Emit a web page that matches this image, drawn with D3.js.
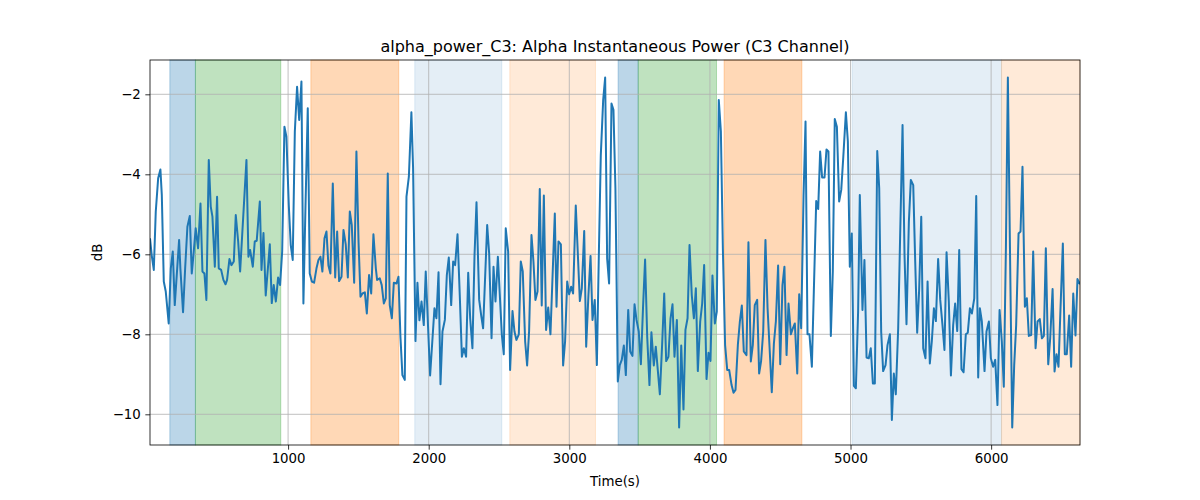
<!DOCTYPE html>
<html>
<head>
<meta charset="utf-8">
<script src="https://cdn.jsdelivr.net/npm/d3@7"></script>
<style>
  html, body { margin: 0; padding: 0; background: #fff; }
  svg { display: block; font-family: "DejaVu Sans", sans-serif; }
</style>
</head>
<body>
<svg id="chart" width="1200" height="500"></svg>
<script>
const chartTitle = "alpha_power_C3: Alpha Instantaneous Power (C3 Channel)";
const xLabel = "Time(s)";
const yLabel = "dB";
const xTicks = [1000, 2000, 3000, 4000, 5000, 6000];
const yTicks = [-2, -4, -6, -8, -10];

const times = [
  18, 30, 45, 59, 76, 92, 102, 116, 130, 151,
  166, 180, 194, 225, 234, 253, 268, 284, 301, 315,
  327, 343, 360, 377, 391, 405, 419, 436, 450, 462,
  479, 495, 507, 524, 540, 555, 566, 583, 597, 614,
  628, 645, 659, 675, 704, 718, 730, 749, 763, 777,
  799, 811, 825, 841, 870, 884, 898, 913, 929, 943,
  958, 974, 988, 1005, 1019, 1033, 1048, 1064, 1079, 1095,
  1109, 1124, 1140, 1154, 1169, 1185, 1202, 1216, 1230, 1244,
  1259, 1273, 1287, 1301, 1318, 1335, 1349, 1363, 1380, 1394,
  1410, 1425, 1439, 1453, 1470, 1486, 1501, 1515, 1529, 1546,
  1560, 1576, 1591, 1607, 1624, 1633,
  1652, 1666, 1681, 1695, 1709, 1723, 1738, 1752, 1771, 1785,
  1799, 1813, 1830, 1842, 1859, 1877, 1889, 1906, 1920, 1934,
  1949, 1965, 1979, 2010, 2041, 2055, 2070, 2084, 2098, 2115,
  2129, 2143, 2160, 2174, 2188, 2205, 2221, 2236, 2250, 2266,
  2281, 2295, 2311, 2326, 2340, 2359, 2373, 2387, 2416, 2430,
  2447, 2461, 2475, 2492,
  2520, 2534, 2548, 2565, 2579, 2596, 2610, 2624, 2641, 2655,
  2669, 2686, 2700, 2714, 2731, 2745, 2759, 2774, 2790, 2804,
  2819, 2835, 2850, 2866, 2897, 2909, 2923, 2940, 2956, 2970,
  2985, 2999, 3013, 3027, 3046, 3061, 3075, 3089, 3106, 3120,
  3136, 3151, 3165, 3181, 3196, 3210, 3224, 3241, 3255, 3269,
  3283, 3300, 3314, 3328, 3345,
  3359, 3373, 3388, 3402, 3419, 3433, 3449, 3464, 3478, 3494,
  3509, 3525, 3539, 3554, 3570, 3584, 3601, 3615, 3630, 3644,
  3660, 3675, 3689, 3705, 3720, 3734, 3748, 3765, 3781, 3796,
  3812, 3826, 3841, 3855, 3871, 3886, 3900, 3914, 3931, 3945,
  3959, 3976, 3990, 4004, 4018, 4035, 4049, 4063, 4078, 4092,
  4108, 4123, 4137, 4154, 4168, 4182, 4199,
  4213, 4227, 4241, 4260, 4274, 4291, 4305, 4319, 4336, 4350,
  4364, 4379, 4395, 4410, 4424, 4440, 4455, 4469, 4485, 4500,
  4516, 4530, 4545, 4559, 4576, 4590, 4604, 4621, 4635, 4649,
  4666, 4680, 4694, 4708, 4725, 4739, 4756, 4770, 4784, 4798,
  4815, 4829, 4843, 4860, 4874, 4888, 4903, 4919, 4934, 4948,
  4967, 4981, 4995, 5009, 5024, 5038, 5054,
  5066, 5085, 5099, 5114, 5130, 5144, 5159, 5173, 5190, 5204,
  5218, 5232, 5249, 5263, 5280, 5294, 5308, 5322, 5339, 5353,
  5370, 5384, 5398, 5415, 5429, 5446, 5460, 5474, 5488, 5503,
  5517, 5533, 5548, 5564, 5578, 5593, 5607, 5623, 5638, 5654,
  5668, 5683, 5699, 5714, 5730, 5744, 5759, 5773, 5789, 5804,
  5820, 5834, 5849, 5863, 5880, 5894, 5908,
  5920, 5934, 5953, 5967, 5984, 5998, 6014, 6029, 6045, 6060,
  6076, 6090, 6105, 6119, 6133, 6150, 6164, 6178, 6195, 6209,
  6223, 6240, 6254, 6268, 6285, 6299, 6316, 6330, 6346, 6361,
  6375, 6389, 6406, 6420, 6437, 6451, 6465, 6479, 6493, 6510,
  6524, 6538, 6555, 6569, 6584, 6600, 6614, 6632
];

const powerDb = [
  -5.6, -6.02, -6.39, -4.93, -4.1, -3.88, -4.52, -6.68, -6.93, -7.73,
  -6.35, -5.93, -7.27, -5.64, -6.35, -7.45, -6.35, -5.31, -5.04, -6.48,
  -6.02, -5.35, -5.85, -4.73, -6.43, -6.48, -7.14, -3.64, -4.81, -5.06,
  -6.31, -4.56, -6.35, -6.39, -6.64, -6.75, -6.64, -6.12, -6.27, -6.18,
  -5.02, -5.68, -6.43, -5.43, -3.64, -6.06, -5.89, -6.31, -5.68, -5.66,
  -4.68, -6.39, -5.47, -7.03, -5.75, -7.22, -6.77, -7.18, -6.58, -6.77,
  -5.93, -2.81, -3.06, -4.77, -5.77, -6.14, -2.93, -1.81, -2.64, -1.68,
  -7.23, -4.77, -2.35, -6.48, -6.68, -6.71, -6.35, -6.14, -6.06, -6.43,
  -5.6, -5.43, -6.28, -6.48, -4.23, -6.58, -5.43, -6.67, -6.56, -5.39,
  -5.75, -6.58, -4.93, -5.27, -6.71, -3.43, -5.68, -7.06, -6.98, -6.95,
  -7.48, -6.52, -6.98, -5.5, -6.35, -6.64,
  -6.6, -6.77, -7.23, -7.1, -3.98, -7.27, -7.6, -6.71, -6.73, -6.56,
  -8.06, -9.02, -9.14, -4.56, -4.06, -2.45, -3.85, -8.17, -6.71, -7.65,
  -7.18, -7.77, -6.43, -9.03, -7.35, -7.6, -6.45, -9.25, -7.93, -7.64,
  -6.52, -6.08, -7.27, -6.18, -6.27, -5.5, -7.02, -8.56, -8.35, -8.56,
  -6.46, -7.6, -8.35, -6.02, -4.7, -7.14, -7.52, -7.85, -5.27, -5.98,
  -8.1, -6.31, -7.18, -6.06,
  -8.0, -8.5, -5.35, -5.93, -8.89, -7.42, -7.93, -8.14, -8.0, -6.18,
  -6.43, -8.18, -8.78, -7.93, -5.52, -6.18, -7.14, -6.93, -4.37, -7.28,
  -4.53, -7.89, -7.33, -8.0, -4.98, -7.31, -5.68, -5.75, -8.78, -8.18,
  -6.68, -7.0, -6.81, -6.98, -4.78, -6.02, -7.17, -6.85, -5.42, -8.31,
  -7.02, -6.04, -7.64, -7.14, -8.77, -6.02, -3.52, -2.14, -1.58, -6.1,
  -6.73, -2.23, -2.39, -4.35, -9.18,
  -8.77, -8.64, -8.28, -9.02, -7.39, -8.43, -8.54, -7.25, -7.64, -7.93,
  -8.75, -7.27, -6.13, -8.06, -9.27, -7.95, -8.78, -8.31, -8.92, -9.5,
  -8.27, -6.98, -8.67, -8.56, -7.6, -7.25, -8.56, -7.64, -10.33, -8.28,
  -9.88, -7.89, -7.6, -5.77, -7.02, -7.6, -6.85, -8.92, -7.68, -7.23,
  -6.27, -9.12, -8.46, -8.67, -6.53, -7.73, -7.43, -2.14, -2.93, -5.85,
  -8.27, -8.89, -8.89, -9.27, -9.46, -9.39, -8.25,
  -7.68, -7.28, -8.43, -8.52, -5.7, -8.68, -8.27, -7.27, -7.14, -8.98,
  -8.67, -7.93, -5.64, -7.35, -8.31, -9.45, -8.23, -7.68, -6.28, -8.75,
  -6.77, -6.31, -8.52, -7.23, -8.0, -7.85, -7.73, -8.98, -7.0, -7.85,
  -4.52, -2.68, -8.0, -8.0, -8.81, -6.93, -4.67, -4.87, -3.43, -4.08,
  -4.08, -3.38, -3.43, -8.04, -6.43, -2.62, -2.81, -4.68, -4.39, -3.6,
  -2.45, -3.18, -6.31, -5.48, -9.29, -9.35, -7.43,
  -4.52, -7.39, -6.14, -8.58, -8.6, -8.35, -9.23, -9.23, -3.42, -4.35,
  -7.93, -8.92, -8.77, -8.27, -8.0, -10.14, -8.98, -9.5, -7.85, -5.52,
  -2.77, -6.02, -7.75, -5.18, -4.14, -4.27, -6.18, -7.96, -6.89, -5.06,
  -8.35, -8.6, -6.68, -8.73, -8.18, -7.35, -7.67, -6.12, -7.14, -7.77,
  -8.39, -5.95, -7.18, -9.03, -7.77, -7.23, -7.92, -5.89, -8.87, -8.95,
  -8.0, -7.96, -7.35, -7.48, -7.1, -4.54, -9.08,
  -7.35, -7.68, -8.92, -7.93, -7.68, -8.6, -8.81, -8.64, -9.77, -7.39,
  -8.18, -9.31, -5.85, -1.58, -5.6, -10.33, -8.77, -7.77, -5.48, -5.43,
  -3.81, -7.31, -7.1, -8.04, -8.02, -5.93, -8.35, -7.68, -7.62, -8.1,
  -8.04, -5.85, -8.75, -8.1, -6.87, -8.93, -8.5, -8.81, -7.39, -5.73,
  -8.5, -8.5, -7.53, -8.81, -6.98, -8.03, -6.62, -6.75
];

// shaded intervals (seconds) and their stage kind
const spanStarts = [159, 341, 1162, 1901, 2577, 3347, 3490, 4101, 5011, 6074];
const spanEnds   = [341, 948, 1787, 2520, 3186, 3490, 4047, 4654, 6074, 6632];
const spanKinds  = ["blue", "green", "orange", "lightblue", "lightorange",
                    "blue", "green", "orange", "lightblue", "lightorange"];

const kindStyle = {
  blue:        { color: "#1f77b4", alpha: 0.3 },
  green:       { color: "#2ca02c", alpha: 0.3 },
  orange:      { color: "#ff7f0e", alpha: 0.3 },
  lightblue:   { color: "#1f77b4", alpha: 0.12 },
  lightorange: { color: "#ff7f0e", alpha: 0.16 }
};

const W = 1200, H = 500;
const m = { left: 150, right: 120, top: 60, bottom: 55 };
const iw = W - m.left - m.right, ih = H - m.top - m.bottom;

const n = Math.min(times.length, powerDb.length);
const points = d3.range(n).map(i => ({ t: times[i], v: powerDb[i] }));

const svg = d3.select("#chart");
const g = svg.append("g").attr("transform", `translate(${m.left},${m.top})`);

const x = d3.scaleLinear().domain(d3.extent(points, d => d.t)).range([0, iw]);
const [vmin, vmax] = d3.extent(points, d => d.v);
const pad = (vmax - vmin) * 0.05;
const y = d3.scaleLinear().domain([vmin - pad, vmax + pad]).range([ih, 0]);

g.append("defs").append("clipPath").attr("id", "plotClip")
  .append("rect").attr("width", iw).attr("height", ih);

// spans
g.append("g").selectAll("rect")
  .data(spanStarts.map((s, i) => ({ s, e: spanEnds[i], k: spanKinds[i] })))
  .join("rect")
  .attr("x", d => x(d.s))
  .attr("y", 0)
  .attr("width", d => x(d.e) - x(d.s))
  .attr("height", ih)
  .attr("fill", d => kindStyle[d.k].color)
  .attr("fill-opacity", d => kindStyle[d.k].alpha)
  .attr("stroke", d => kindStyle[d.k].color)
  .attr("stroke-opacity", d => kindStyle[d.k].alpha)
  .attr("stroke-width", 1);

// grid
const grid = g.append("g");
grid.selectAll("line.gx").data(xTicks).join("line")
  .attr("x1", d => x(d)).attr("x2", d => x(d))
  .attr("y1", 0).attr("y2", ih)
  .attr("stroke", "#b0b0b0").attr("stroke-width", 0.8);
grid.selectAll("line.gy").data(yTicks).join("line")
  .attr("x1", 0).attr("x2", iw)
  .attr("y1", d => y(d)).attr("y2", d => y(d))
  .attr("stroke", "#b0b0b0").attr("stroke-width", 0.8);

// line
const line = d3.line().x(d => x(d.t)).y(d => y(d.v));
g.append("path")
  .datum(points)
  .attr("clip-path", "url(#plotClip)")
  .attr("fill", "none")
  .attr("stroke", "#1f77b4")
  .attr("stroke-width", 2)
  .attr("stroke-linejoin", "round")
  .attr("stroke-linecap", "butt")
  .attr("d", line);

// frame
g.append("rect").attr("x", 0).attr("y", 0).attr("width", iw).attr("height", ih)
  .attr("fill", "none").attr("stroke", "#000").attr("stroke-width", 0.8);

const fmt = d => d < 0 ? "\u2212" + Math.abs(d) : String(d);

const xAxis = g.append("g").attr("transform", `translate(0,${ih})`)
  .call(d3.axisBottom(x).tickValues(xTicks).tickFormat(fmt).tickSize(4.67).tickPadding(4));
const yAxis = g.append("g")
  .call(d3.axisLeft(y).tickValues(yTicks).tickFormat(fmt).tickSize(4.67).tickPadding(4.5));
[xAxis, yAxis].forEach(a => {
  a.select(".domain").remove();
  a.selectAll(".tick line").attr("stroke", "#000").attr("stroke-width", 0.8);
  a.selectAll(".tick text").attr("fill", "#000")
    .style("font-family", "'DejaVu Sans', sans-serif").style("font-size", "13.33px");
});

svg.append("text")
  .attr("x", m.left + iw / 2).attr("y", 52)
  .attr("text-anchor", "middle")
  .style("font-size", "16px").attr("fill", "#000")
  .text(chartTitle);

svg.append("text")
  .attr("x", m.left + iw / 2).attr("y", 486)
  .attr("text-anchor", "middle")
  .style("font-size", "13.33px").attr("fill", "#000")
  .text(xLabel);

svg.append("text")
  .attr("transform", `translate(102,${m.top + ih / 2}) rotate(-90)`)
  .attr("text-anchor", "middle")
  .style("font-size", "13.33px").attr("fill", "#000")
  .text(yLabel);
</script>
</body>
</html>
